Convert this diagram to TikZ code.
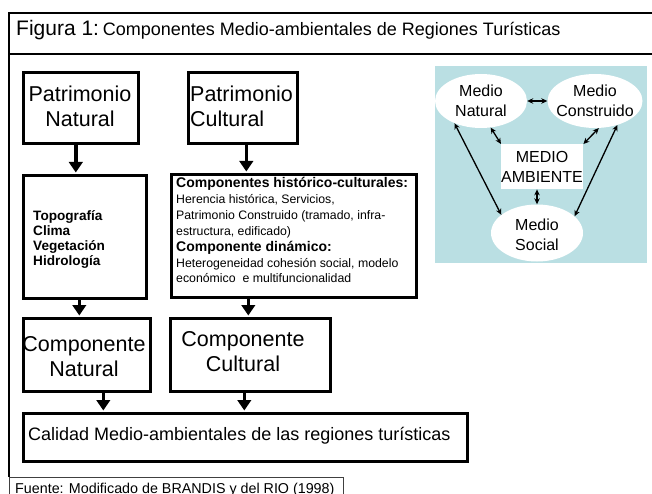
\documentclass[tikz,border=0pt]{standalone}
\usepackage{fontspec}
\setmainfont{Liberation Sans}
\usetikzlibrary{shapes.geometric,arrows.meta}
\definecolor{panelblue}{RGB}{186,223,227}
\newcommand\mlines[2]{\begin{tabular}[t]{@{}#1@{}}#2\end{tabular}}
\tikzset{
  bigbox/.style={draw, line width=2.6pt, inner sep=0, anchor=north west},
  flow/.style={line width=3.6pt, -{Triangle[length=10.5pt,width=13.5pt]}},
  dbl/.style={line width=1.3pt, {Stealth[length=6pt,width=5.5pt]}-{Stealth[length=6pt,width=5.5pt]}},
  medio/.style={ellipse, fill=white, inner sep=0},
  txt/.style={inner sep=0, anchor=base},
  bigfont/.style={font=\fontsize{21.5}{25}\selectfont},
  midfont/.style={font=\fontsize{16}{20}\selectfont},
}
\begin{document}
\begin{tikzpicture}[x=1pt,y=-1pt]
\useasboundingbox (0,0) rectangle (652,494);
% title frame
\draw[line width=2pt] (652,13) -- (9,13) -- (9,54);
\draw[line width=2.6pt] (9,54) -- (652,54);
\node[txt, anchor=base west] (title) at (16,36) {{\fontsize{21}{25}\selectfont Figura 1:} {\fontsize{18}{20}\selectfont Componentes Medio-ambientales de Regiones Turísticas}};
% main frame and source box
\draw[line width=1.2pt] (9,54) -- (9,477);
\draw[line width=0.8pt, black!75] (9,510) -- (9,477) -- (343,477) -- (343,510);
\node[txt, anchor=base west, font=\fontsize{14.3}{16}\selectfont] (fuente) at (15,493.5) {Fuente: Modificado de BRANDIS y del RIO (1998)};

% left column
\node[bigbox, minimum width=115, minimum height=71] (pn) at (22,71) {};
\node[txt, bigfont] (pnt) at (80,102) {\mlines{c}{Patrimonio\\Natural}};
\node[bigbox, minimum width=109, minimum height=71] (pc) at (187,71) {};
\node[txt, bigfont, anchor=base west] (pct) at (190,102) {\mlines{l}{Patrimonio\\Cultural}};

\node[bigbox, minimum width=123, minimum height=123] (topo) at (22,174) {};
\node[txt, anchor=base west, font=\fontsize{13.6}{15}\selectfont\bfseries] (topot) at (33,220) {\mlines{l}{Topografía\\Clima\\Vegetación\\Hidrología}};

\node[bigbox, minimum width=245, minimum height=123] (comp) at (170,173) {};
\node[txt, anchor=base west, font=\fontsize{12.3}{15.8}\selectfont] (compt) at (176,188) {\mlines{l}{%
{\fontsize{14}{15.8}\selectfont\bfseries Componentes histórico-culturales:}\\
Herencia histórica, Servicios,\\
Patrimonio Construido (tramado, infra-\\
estructura, edificado)\\
{\fontsize{14}{15.8}\selectfont\bfseries Componente dinámico:}\\
Heterogeneidad cohesión social, modelo\\
económico~ e multifuncionalidad}};

\node[bigbox, minimum width=127, minimum height=73] (cn) at (22,317) {};
\node[txt, bigfont] (cnt) at (84,351) {\mlines{c}{Componente\\Natural}};
\node[bigbox, minimum width=160, minimum height=73] (cc) at (169,317) {};
\node[txt, bigfont] (cct) at (243,346) {\mlines{c}{Componente\\Cultural}};

\node[bigbox, minimum width=444, minimum height=48] (cal) at (22,412) {};
\node[txt, anchor=base west, font=\fontsize{18}{22}\selectfont] (calt) at (28,440) {Calidad Medio-ambientales de las regiones turísticas};

% flow arrows
\draw[flow] ([xshift=-5pt]pn.south) -- ([xshift=-5pt,yshift=1.5pt]pn.south |- topo.north);
\draw[flow] ([xshift=3.5pt]pc.south) -- ([xshift=3.5pt,yshift=1.5pt]pc.south |- comp.north);
\draw[flow] ([xshift=-5.5pt]topo.south) -- ([xshift=-5.5pt,yshift=1.5pt]topo.south |- cn.north);
\draw[flow] ([xshift=-2pt]cc.north |- comp.south) -- ([xshift=-2pt,yshift=1.5pt]cc.north);
\draw[flow] ([xshift=16.5pt]cn.south) -- ([xshift=16.5pt,yshift=1.5pt]cn.south |- cal.north);
\draw[flow] ([xshift=-6pt]cc.south) -- ([xshift=-6pt,yshift=1.5pt]cc.south |- cal.north);

% environment panel
\node[fill=panelblue, inner sep=0, anchor=north west, minimum width=212, minimum height=197] (panel) at (435,66) {};
\node[medio, minimum width=92, minimum height=54] (mn) at (481,101) {};
\node[medio, minimum width=95, minimum height=54] (mc) at (595,101) {};
\node[medio, minimum width=92, minimum height=57] (ms) at (537,233) {};
\node[fill=white, inner sep=0, anchor=north west, minimum width=82, minimum height=45] (ma) at (501,144) {};
\node[txt, midfont] (mnt) at (481,97) {\mlines{c}{Medio\\Natural}};
\node[txt, midfont] (mct) at (595,97) {\mlines{c}{Medio\\Construido}};
\node[txt, midfont] (mst) at (537,230) {\mlines{c}{Medio\\Social}};
\node[txt, midfont] (mat) at (542,163) {\mlines{c}{MEDIO\\AMBIENTE}};

\draw[dbl] (mn) -- (mc);
\draw[dbl] (mn.-70) -- (ma.north west);
\draw[dbl] (mc.-82) -- (ma.north east);
\draw[dbl] (mn.-140) -- (ms.153);
\draw[dbl] (mc.-47) -- (ms.24);
\draw[dbl] (ms.north |- ma.south) -- (ms.north);
\end{tikzpicture}
\end{document}
